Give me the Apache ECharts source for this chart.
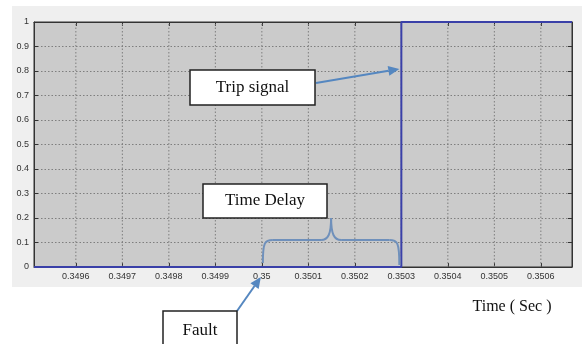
<!DOCTYPE html>
<html>
<head>
<meta charset="utf-8">
<script src="https://cdn.jsdelivr.net/npm/echarts@6/dist/echarts.min.js"></script>
<style>
  html, body { margin: 0; padding: 0; background: #ffffff; }
  #chart { width: 583px; height: 344px; }
</style>
</head>
<body>
<div id="chart"></div>
<script>
// Relay trip signal: time samples (s) and signal level
const times = [0.34951, 0.3503, 0.3503, 0.350667];
const tripSignal = [0, 0, 1, 1];

// Axis tick positions
const xTicks = [0.3496, 0.3497, 0.3498, 0.3499, 0.35, 0.3501, 0.3502, 0.3503, 0.3504, 0.3505, 0.3506];
const xRange = [0.34951, 0.350667];
const yRange = [0, 1];

// Events referenced by the annotations
const faultTime = 0.35;
const tripTime = 0.3503;
const tripArrowLevel = 0.8;

const fmtX = v => String(Number(v.toFixed(4)));
const serif = '"Liberation Serif", "DejaVu Serif", serif';
const tickFont = '"Liberation Sans Narrow", "Liberation Sans", Arial, sans-serif';
const gridColor = '#7e7e7e';

const chart = echarts.init(document.getElementById('chart'), null, { renderer: 'canvas' });

const tickStyle = { show: true, inside: true, length: 4, lineStyle: { color: '#333', width: 1 } };
const axisLine = { show: true, onZero: false, lineStyle: { color: '#333', width: 1 } };

chart.setOption({
  animation: false,
  backgroundColor: '#ffffff',
  grid: {
    left: 34, right: 11, top: 22, bottom: 77,
    show: true, backgroundColor: '#cbcbcb', borderColor: '#333', borderWidth: 1
  },
  xAxis: [{
    type: 'value', min: xRange[0], max: xRange[1], position: 'bottom',
    axisLine: axisLine,
    axisTick: Object.assign({ customValues: xTicks }, tickStyle),
    axisLabel: {
      customValues: xTicks, formatter: fmtX, color: '#333',
      fontFamily: tickFont, fontSize: 9, margin: 5
    },
    splitLine: { show: false }
  }, {
    type: 'value', min: xRange[0], max: xRange[1], position: 'top',
    axisLine: axisLine,
    axisTick: Object.assign({ customValues: xTicks }, tickStyle),
    axisLabel: { show: false },
    splitLine: { show: false }
  }],
  yAxis: [{
    type: 'value', min: yRange[0], max: yRange[1], interval: 0.1, position: 'left',
    axisLine: axisLine, axisTick: tickStyle,
    axisLabel: {
      color: '#333', fontFamily: '"Liberation Sans", Arial, sans-serif',
      fontSize: 9, margin: 5, formatter: v => String(Number(v.toFixed(1)))
    },
    splitLine: { show: true, lineStyle: { color: gridColor, type: [1.5, 2], width: 1 } }
  }, {
    type: 'value', min: yRange[0], max: yRange[1], interval: 0.1, position: 'right',
    axisLine: axisLine, axisTick: tickStyle,
    axisLabel: { show: false }, splitLine: { show: false }
  }],
  series: [{
    // vertical dotted grid at the labelled time ticks
    type: 'custom', silent: true, z: 1,
    data: xTicks.map(t => [t]),
    renderItem: (params, api) => {
      const t = api.value(0);
      const p0 = api.coord([t, yRange[0]]);
      const p1 = api.coord([t, yRange[1]]);
      return {
        type: 'line',
        shape: { x1: p0[0], y1: p0[1], x2: p1[0], y2: p1[1] },
        style: { stroke: gridColor, lineWidth: 1, lineDash: [1.5, 2] }
      };
    }
  }, {
    name: 'Trip signal', type: 'line', z: 5,
    data: times.map((t, i) => [t, tripSignal[i]]),
    showSymbol: false, clip: false,
    lineStyle: { color: '#3a40a8', width: 2 }
  }]
});

// Annotations placed from the axis scales
const px = (t, v) => chart.convertToPixel({ xAxisIndex: 0, yAxisIndex: 0 }, [t, v]);
const faultPt = px(faultTime, 0);
const tripPt = px(tripTime, tripArrowLevel);
const y0 = faultPt[1];
const yFlat = px(faultTime, 0.11)[1];
const yPeak = px(faultTime, 0.2)[1];
const xa = faultPt[0] + 1, xb = px(tripTime, 0)[0] - 2;
const xm = (xa + xb) / 2;

function arrow(x1, y1, x2, y2, color) {
  const ang = Math.atan2(y2 - y1, x2 - x1);
  const L = 11, W = 5;
  const bx = x2 - L * Math.cos(ang), by = y2 - L * Math.sin(ang);
  const nx = -Math.sin(ang) * W, ny = Math.cos(ang) * W;
  return [
    { type: 'line', silent: true, z: 20,
      shape: { x1: x1, y1: y1, x2: bx, y2: by },
      style: { stroke: color, lineWidth: 2 } },
    { type: 'polygon', silent: true, z: 20,
      shape: { points: [[x2, y2], [bx + nx, by + ny], [bx - nx, by - ny]] },
      style: { fill: color } }
  ];
}

function box(x, y, w, h, text) {
  return [
    { type: 'rect', silent: true, z: 20,
      shape: { x: x, y: y, width: w, height: h },
      style: { fill: '#ffffff', stroke: '#222', lineWidth: 1.5 } },
    { type: 'text', silent: true, z: 21, x: x + w / 2, y: y + h / 2,
      style: { text: text, fill: '#111', font: '17px ' + serif, align: 'center', verticalAlign: 'middle' } }
  ];
}

// curly brace spanning the delay between fault and trip
const braceStyle = { stroke: '#6f90bb', lineWidth: 2, fill: null };
function curve(x1, y1, c1x, c1y, c2x, c2y, x2, y2) {
  return { type: 'bezierCurve', silent: true, z: 15,
    shape: { x1: x1, y1: y1, cpx1: c1x, cpy1: c1y, cpx2: c2x, cpy2: c2y, x2: x2, y2: y2 },
    style: braceStyle };
}
function seg(x1, y1, x2, y2) {
  return { type: 'line', silent: true, z: 15,
    shape: { x1: x1, y1: y1, x2: x2, y2: y2 }, style: braceStyle };
}
const brace = [
  curve(xa, y0 - 4, xa, yFlat + 2, xa + 2, yFlat, xa + 10, yFlat),
  seg(xa + 10, yFlat, xm - 10, yFlat),
  curve(xm - 10, yFlat, xm - 3, yFlat, xm, yFlat - 6, xm, yPeak),
  curve(xm, yPeak, xm, yFlat - 6, xm + 3, yFlat, xm + 10, yFlat),
  seg(xm + 10, yFlat, xb - 10, yFlat),
  curve(xb - 10, yFlat, xb - 2, yFlat, xb, yFlat + 2, xb, y0 - 2)
];

chart.setOption({
  graphic: [
    // figure panel behind the axes
    { type: 'rect', silent: true, z: -10, zlevel: -1,
      shape: { x: 12, y: 6, width: 570, height: 281 },
      style: { fill: '#efefef' } },
    ...brace,
    ...arrow(316, 83, tripPt[0] - 2, tripPt[1] - 2, '#5587c0'),
    ...box(190, 70, 125, 35, 'Trip signal'),
    ...box(203, 184, 124, 34, 'Time Delay'),
    ...arrow(237, 311, faultPt[0] - 1, faultPt[1] + 10, '#5587c0'),
    ...box(163, 311, 74, 40, 'Fault'),
    { type: 'text', silent: true, z: 20, x: 512, y: 307,
      style: { text: 'Time ( Sec )', fill: '#111', font: '16px ' + serif, align: 'center', verticalAlign: 'middle' } }
  ]
});
</script>
</body>
</html>
